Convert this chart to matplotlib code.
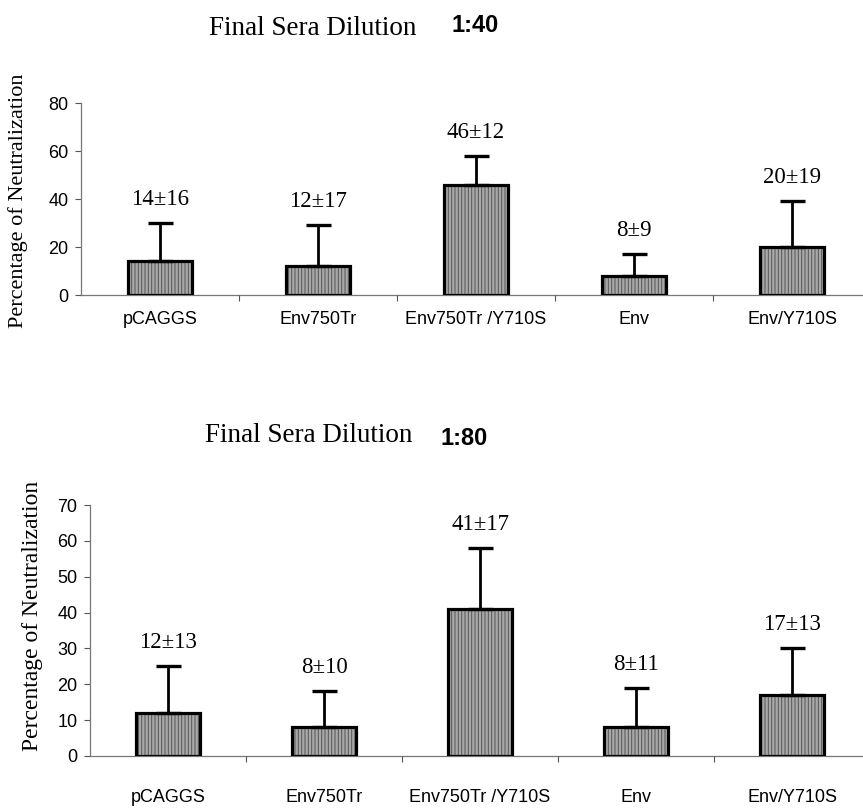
import matplotlib
matplotlib.use("Agg")
import matplotlib.pyplot as plt

plt.rcParams["hatch.linewidth"] = 0.7

categories = ["pCAGGS", "Env750Tr", "Env750Tr /Y710S", "Env", "Env/Y710S"]

# 1:40 dilution
mean_40 = [14, 12, 46, 8, 20]
sd_40 = [16, 17, 12, 9, 19]

# 1:80 dilution
mean_80 = [12, 8, 41, 8, 17]
sd_80 = [13, 10, 17, 11, 13]

serif = "Liberation Serif"
sans = "Liberation Sans"

fig = plt.figure(figsize=(8.63, 8.08), dpi=100)


def panel(rect, means, sds, ymax, ystep, label_pad, ylab_xy, ylab_size):
    ax = fig.add_axes(rect)
    x = list(range(len(categories)))
    # stippled gray fill, then black outline on top
    ax.bar(x, means, width=0.41, color="#a8a8a8", edgecolor="#555555",
           hatch="|||||", linewidth=0, zorder=2)
    ax.bar(x, means, width=0.41, facecolor="none", edgecolor="black",
           linewidth=2.3, zorder=3)
    ax.errorbar(x, means, yerr=[[0] * len(sds), sds], fmt="none",
                ecolor="black", elinewidth=2.0, capsize=9, capthick=2.4,
                zorder=4)
    for xi, m, s in zip(x, means, sds):
        ax.annotate(f"{m}\u00b1{s}", (xi, m + s), xytext=(0, 13),
                    textcoords="offset points", ha="center", va="baseline",
                    fontsize=16.5, family=serif)

    ax.set_xlim(-0.5, len(categories) - 0.5)
    ax.set_ylim(0, ymax)
    ax.set_yticks(range(0, ymax + 1, ystep))
    ax.set_xticks(x)
    ax.set_xticklabels(categories, family=sans, fontsize=13)
    ax.set_xticks([i - 0.5 for i in x[1:]] + [len(x) - 0.5], minor=True)
    ax.tick_params(axis="x", which="major", length=0, pad=label_pad)
    ax.tick_params(axis="x", which="minor", length=4, color="#555555",
                   width=0.8)
    ax.tick_params(axis="y", length=4, width=0.8, color="#555555", pad=5,
                   labelsize=13)
    for t in ax.get_yticklabels():
        t.set_family(sans)

    for side in ["top", "right"]:
        ax.spines[side].set_visible(False)
    ax.spines["left"].set_color("#777777")
    ax.spines["left"].set_linewidth(0.9)
    ax.spines["bottom"].set_color("#777777")
    ax.spines["bottom"].set_linewidth(0.9)
    ax.spines["bottom"].set_zorder(1)

    ax.set_ylabel("Percentage of Neutralization", family=serif,
                  fontsize=ylab_size)
    ax.yaxis.set_label_coords(*ylab_xy)
    return ax


panel([81 / 863, 1 - 295 / 808, 790 / 863, 192 / 808],
      mean_40, sd_40, 80, 20, 11.5, (-0.067, 0.49), 16)
panel([90 / 863, 1 - 756 / 808, 780 / 863, 251 / 808],
      mean_80, sd_80, 70, 10, 24, (-0.060, 0.56), 17)

fig.text(416 / 863, 1 - 35 / 808, "Final Sera Dilution", ha="right",
         va="baseline", family=serif, fontsize=19.5)
fig.text(451 / 863, 1 - 32 / 808, "1:40", ha="left", va="baseline",
         family=sans, fontsize=17, fontweight="bold")
fig.text(412 / 863, 1 - 442 / 808, "Final Sera Dilution", ha="right",
         va="baseline", family=serif, fontsize=19.5)
fig.text(440 / 863, 1 - 445 / 808, "1:80", ha="left", va="baseline",
         family=sans, fontsize=17, fontweight="bold")

fig.savefig("out.png", dpi=100)
